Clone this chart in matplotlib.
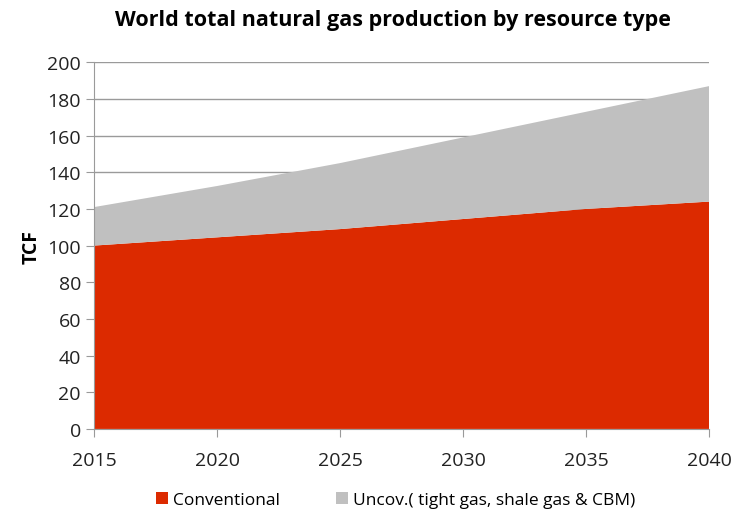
import matplotlib.pyplot as plt

plt.rcParams['font.family'] = ['Open Sans', 'DejaVu Sans']

# data (TCF)
years = [2015, 2020, 2025, 2030, 2035, 2040]
conventional = [100, 104.5, 109, 114.5, 120, 124]
total = [121, 132.5, 145, 159, 173, 187]
unconventional = [t - c for t, c in zip(total, conventional)]

red = '#DC2A00'
grey = '#C0C0C0'
axis_grey = '#9A9A9A'

fig = plt.figure(figsize=(7.35, 5.10), dpi=100)
ax = fig.add_axes([0.128, 0.157, 0.837, 0.719])

ax.stackplot(years, conventional, unconventional, colors=[red, grey],
             labels=['Conventional', 'Uncov.( tight gas, shale gas & CBM)'],
             zorder=2, linewidth=0)

ax.set_xlim(2015, 2040)
ax.set_ylim(0, 200)
ax.set_xticks(years)
ax.set_yticks(range(0, 201, 20))
ax.yaxis.grid(True, color=axis_grey, linewidth=1, zorder=0)
ax.set_axisbelow(True)

for side in ['top', 'right']:
    ax.spines[side].set_visible(False)
for side in ['left', 'bottom']:
    ax.spines[side].set_color(axis_grey)
ax.tick_params(axis='both', colors=axis_grey, labelcolor='#222222',
               labelsize=14, length=6, direction='out')
ax.tick_params(axis='x', pad=10)

ax.set_ylabel('TCF', fontsize=14, fontweight='bold', labelpad=4)
fig.suptitle('World total natural gas production by resource type',
             fontsize=15.5, fontweight='bold', x=0.535, y=0.98)

ax.legend(loc='upper center', bbox_to_anchor=(0.49, -0.13), ncol=2,
          frameon=False, fontsize=12.5, handlelength=0.7, handleheight=0.7,
          handletextpad=0.3, columnspacing=3.2)

fig.savefig('out.png', dpi=100)
